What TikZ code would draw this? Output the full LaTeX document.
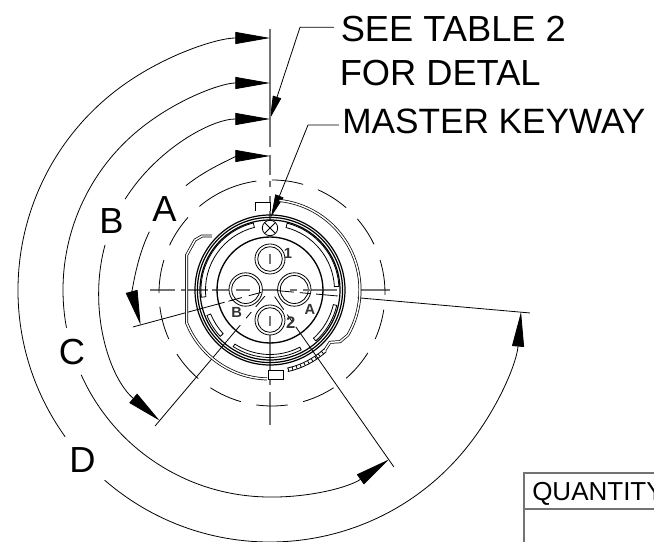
\documentclass[tikz,border=0pt]{standalone}
\usepackage{fontspec}
\setmainfont{Liberation Sans}
\usetikzlibrary{arrows.meta}

\tikzset{
    dimline/.style={line width=0.6pt},
    dimtip/.style={dimline, -{Triangle[length=26pt,width=9pt]}},
    leader/.style={line width=0.6pt, -{Triangle[length=17pt,width=6.5pt]}},
    centre/.style={line width=1pt, black!55},
    ring/.style={line width=0.9pt},
    thinpart/.style={line width=0.6pt},
    shell/.style={line width=0.55pt, double, double distance=1.1pt},
    biglabel/.style={inner sep=0pt, anchor=base west, font=\fontsize{27.2}{30}\selectfont},
    pinlabel/.style={inner sep=0pt, black!80, font=\bfseries\fontsize{11}{12}\selectfont}
}

\begin{document}
\begin{tikzpicture}[x=0.75pt, y=0.75pt]
    \useasboundingbox (-270,-252) rectangle (384,290);

    % labels
    \node (see) at (70.5,248.3) [biglabel] {SEE TABLE 2};
    \node (detail) at (69.5,204.3) [biglabel] {FOR DETAL};
    \node (keyway) at (72,156) [biglabel, font=\fontsize{26.4}{30}\selectfont] {MASTER KEYWAY};
    \node (A) at (-118,68) [biglabel] {A};
    \node (B) at (-171,56) [biglabel] {B};
    \node (C) at (-211.5,-75) [biglabel] {C};
    \node (D) at (-201,-183) [biglabel] {D};

    % leaders
    \coordinate (seeknee) at (30,262.7);
    \coordinate (seetip) at (0,171.5);
    \coordinate (seeend) at (64,262.7);
    \coordinate (keyknee) at (38,165);
    \coordinate (keytip) at (1,73);
    \coordinate (keyend) at (69,165);
    \draw [leader] (seeend)--(seeknee)--(seetip);
    \draw [leader] (keyend)--(keyknee)--(keytip);

    % centre lines
    \foreach \a/\b in {-120/-95, -89/-62, -58/-40, -34/-20, -12/12, 20/27, 33/46, 46/67, 90/120}
        \draw [centre] (\a,0)--(\b,0);
    \foreach \a/\b in {261/143, 135/115, 109/103, 94/60, 36/26, -26/-36, -43/-95, -102/-135}
        \draw [centre] (0,\a)--(0,\b);

    % extension lines
    \foreach \ang/\a/\b in {195.1/9/22, 195.1/29/43, 195.1/47/142,
                            229.8/8/22, 229.8/29/37, 229.8/46/178,
                            305/8/24, 305/30/38, 305/45/216,
                            354.95/7/24, 354.95/30/40, 354.95/46/68, 354.95/88/261}
        \draw [dimline] (\ang:\a)--(\ang:\b);

    % dimension A
    \draw [dimtip] (128.9:134) arc (128.9:90:134);
    \draw [dimtip] (154.2:134) arc (154.2:195.1:134);
    % dimension B
    \draw [dimtip] (147.9:171) arc (147.9:90:171);
    \draw [dimtip] (164.7:171) arc (164.7:229.8:171);
    % dimension C
    \draw [dimtip] (190.5:207) arc (190.5:90:207);
    \draw [dimtip] (204.2:207) arc (204.2:305:207);
    % dimension D
    \draw [dimtip] (215.6:252) arc (215.6:90:252);
    \draw [dimtip] (229:252) arc (229:355:252);

    % broken circle
    \foreach \a/\b in {98/130, 138/155, 163/180, 187/204, 212.7/229.3, 237/254, 262/278,
                       286/303, 311/328, 336/351.5, 359/377, 385.6/401, 409/426, 434/450}
        \draw [dimline, shift={(2,-3)}] (\a:113) arc (\a:\b:113);

    % rings
    \foreach \r in {75, 72.6, 70}
        \draw [ring] (0,0) circle (\r);
    \draw [line width=1pt] (0,0) circle (53);

    % pins
    \foreach \x/\y/\ro/\ri in {0/31/15/12.3, 0/-30/15/12.3, -24.3/0.5/16.7/14, 24.3/0.5/16.7/14} {
        \draw [thinpart, fill=white] (\x,\y) circle (\ro);
        \draw [thinpart] (\x,\y) circle (\ri);
    }
    \draw [centre] (0,36)--(0,26);
    \draw [centre] (0,-26)--(0,-36);
    \foreach \a/\b in {-34/-20, 20/27, 33/40}
        \draw [centre] (\a,0)--(\b,0);
    \foreach \ang/\a/\b in {195.1/9/22, 195.1/29/40, 354.95/7/24, 354.95/30/40}
        \draw [dimline] (\ang:\a)--(\ang:\b);

    % slots
    \foreach \a/\b/\ri/\ro in {104/186/64.5/69, 75.6/3/64.5/69, 202/223/64/68, 237/297.5/64.5/67.5, 312/347/65/68.5} {
        \draw [thinpart] (\a:\ro) arc (\a:\b:\ro)--(\b:\ri) arc (\b:\a:\ri)--cycle;
    }

    % shell
    \draw [shell] (84:90) arc (84:-30:90)--(70,-51.7)--(60,-52.3)--(55,-60);
    \draw [shell] (-58,54)--(-68,54)--(-75,50)--(-83.3,35)--(-83.3,-33) arc (201.8:268.5:89);

    % knurl
    \draw [thinpart] (-77.7:80) arc (-77.7:-47.5:80);
    \draw [thinpart] (-77.7:83.5) arc (-77.7:-47.5:83.5);
    \foreach \ang in {-77,-74,...,-48}
        \draw [thinpart] (\ang:80)--(\ang:83.5);

    % tabs
    \draw [thinpart, fill=white] (-15,79)--(-15,88)--(0,88)--(0,79);
    \draw [thinpart, fill=white] (-2,-80) rectangle (13,-89);

    % key mark
    \draw [thinpart, fill=white] (0,62) circle (7.7);
    \draw [thinpart] (-5.4,56.6)--(5.4,67.4);
    \draw [thinpart] (-5.4,67.4)--(5.4,56.6);

    % pin letters
    \node (one) at (18,37) [pinlabel] {1};
    \node (two) at (20.7,-33) [pinlabel, font=\bfseries\fontsize{12.5}{14}\selectfont] {2};
    \node (letA) at (40,-19) [pinlabel] {A};
    \node (letB) at (-33.3,-22.7) [pinlabel] {B};

    % table
    \node (qty) at (262,-210.7) [inner sep=0pt, anchor=base west, font=\fontsize{19.5}{22}\selectfont] {QUANTITY};
    \draw [line width=1.5pt, black!55] (384,-182.7)--(253.7,-182.7)--(253.7,-252);
    \draw [line width=1.5pt, black!55] (253.7,-218.7)--(384,-218.7);
\end{tikzpicture}
\end{document}
